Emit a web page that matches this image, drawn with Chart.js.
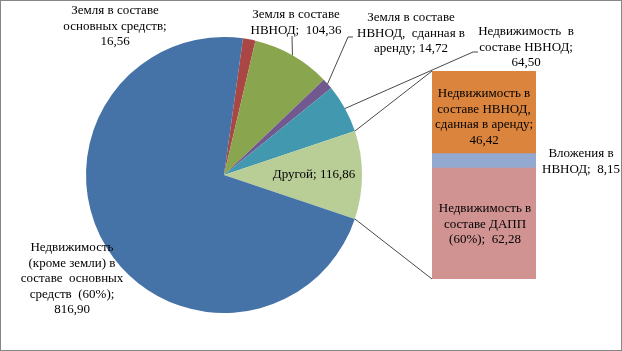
<!DOCTYPE html>
<html>
<head>
<meta charset="utf-8">
<script src="https://cdn.jsdelivr.net/npm/chart.js@4"></script>
<style>
    body { margin: 0; background: #fff; }
    #wrap { position: relative; width: 622px; height: 351px; box-sizing: border-box; border: 1px solid #868686; }
    #pie { position: absolute; left: -1px; top: -1px; z-index: 2; }
    #bar { position: absolute; left: 431px; top: 70px; z-index: 1; }
</style>
</head>
<body>
<div id="wrap">
    <canvas id="bar" width="104" height="208"></canvas>
    <canvas id="pie" width="622" height="351"></canvas>
</div>
<script>
const pieLabels = [
    "Земля в составе основных средств",
    "Земля в составе НВНОД",
    "Земля в составе НВНОД, сданная в аренду",
    "Недвижимость в составе НВНОД",
    "Другой",
    "Недвижимость (кроме земли) в составе основных средств (60%)",
];
const pieValues = [16.56, 104.36, 14.72, 64.50, 116.86, 816.90];
const pieColors = ["#AA4643", "#89A54E", "#71588F", "#4198AF", "#B9CD96", "#4572A7"];
const otherIndex = 4;

// bar of pie, from bottom to top
const barLabels = [
    "Недвижимость в составе ДАПП (60%)",
    "Вложения в НВНОД",
    "Недвижимость в составе НВНОД, сданная в аренду",
];
const barValues = [62.28, 8.15, 46.42];
const barColors = ["#D19392", "#93A9CF", "#DB843D"];

const fmt = (v) => v.toFixed(2).replace(".", ",");

// the "other" slice is centred at 3 o'clock, like in Excel
const pieTotal = pieValues.reduce((a, b) => a + b, 0);
const before = pieValues.slice(0, otherIndex).reduce((a, b) => a + b, 0);
const rotation = 90 - (before + pieValues[otherIndex] / 2) / pieTotal * 360;

const barChart = new Chart(document.getElementById("bar"), {
    type: "bar",
    data: {
        labels: [""],
        datasets: barValues.map((v, i) => ({
            label: barLabels[i],
            data: [v],
            backgroundColor: barColors[i],
            barPercentage: 1,
            categoryPercentage: 1,
            borderWidth: 0,
        })),
    },
    options: {
        responsive: false,
        animation: false,
        layout: { padding: 0 },
        scales: {
            x: { stacked: true, display: false },
            y: { stacked: true, display: false, min: 0, max: barValues.reduce((a, b) => a + b, 0) },
        },
        plugins: { legend: { display: false }, tooltip: { enabled: false } },
    },
});

// label text and where it sits (slice index, or "bar" index); anchor = leader line end
const pieText = [
    { x: 115, y: 11, lines: ["Земля в составе", "основных средств;", fmt(pieValues[0])] },
    { x: 296, y: 15, lines: ["Земля в составе", "НВНОД;  " + fmt(pieValues[1])], anchor: [[292, 36]] },
    { x: 411, y: 18, lines: ["Земля в составе", "НВНОД,  сданная в", "аренду; " + fmt(pieValues[2])], anchor: [[348, 37], [353, 37]] },
    { x: 526, y: 32, lines: ["Недвижимость  в", "составе НВНОД;", fmt(pieValues[3])], anchor: [[473, 52], [478, 52]] },
    { x: 314, y: 175, lines: ["Другой; " + fmt(pieValues[4])] },
    { x: 72, y: 248, lines: ["Недвижимость", "(кроме земли) в", "составе  основных", "средств  (60%);", fmt(pieValues[5])] },
];
const barText = [
    { x: 485, y: 209, lines: ["Недвижимость в", "составе ДАПП", "(60%);  " + fmt(barValues[0])] },
    { x: 581, y: 154, lines: ["Вложения в", "НВНОД;  " + fmt(barValues[1])] },
    { x: 484, y: 94, lines: ["Недвижимость в", "составе НВНОД,", "сданная в аренду;", fmt(barValues[2])] },
];

const lineH = 15.5;

const overlay = {
    id: "overlay",
    afterDraw(chart) {
        const ctx = chart.ctx;
        const arcs = chart.getDatasetMeta(0).data;
        const barCanvas = document.getElementById("bar");
        const bx = barCanvas.offsetLeft + 1, by = barCanvas.offsetTop + 1;
        const barMeta = barChart.data.datasets.map((d, i) => barChart.getDatasetMeta(i).data[0]);
        const bottomBar = barMeta[0], topBar = barMeta[barMeta.length - 1];
        const barLeft = bx + bottomBar.x - bottomBar.width / 2;

        ctx.save();
        ctx.strokeStyle = "#1a1a1a";
        ctx.lineWidth = 0.8;

        // connectors from the "other" slice to the bar
        const o = arcs[otherIndex];
        const p1 = [o.x + Math.cos(o.startAngle) * o.outerRadius, o.y + Math.sin(o.startAngle) * o.outerRadius];
        const p2 = [o.x + Math.cos(o.endAngle) * o.outerRadius, o.y + Math.sin(o.endAngle) * o.outerRadius];
        ctx.beginPath();
        ctx.moveTo(p1[0], p1[1]);
        ctx.lineTo(barLeft, by + topBar.y);
        ctx.moveTo(p2[0], p2[1]);
        ctx.lineTo(barLeft, by + bottomBar.base);
        ctx.stroke();

        // leader lines
        pieText.forEach((t, i) => {
            if (!t.anchor) return;
            const a = arcs[i];
            const mid = (a.startAngle + a.endAngle) / 2;
            ctx.beginPath();
            ctx.moveTo(a.x + Math.cos(mid) * a.outerRadius, a.y + Math.sin(mid) * a.outerRadius);
            t.anchor.forEach((p) => ctx.lineTo(p[0], p[1]));
            ctx.stroke();
        });

        // labels
        ctx.fillStyle = "#000";
        ctx.font = "13px 'Liberation Serif', 'Times New Roman', serif";
        ctx.textAlign = "center";
        ctx.textBaseline = "middle";
        [...pieText, ...barText].forEach((t) => {
            t.lines.forEach((ln, k) => ctx.fillText(ln, t.x, t.y + k * lineH));
        });
        ctx.restore();
    },
};

const pieChart = new Chart(document.getElementById("pie"), {
    type: "pie",
    data: {
        labels: pieLabels,
        datasets: [
            {
                data: pieValues,
                backgroundColor: pieColors,
                borderWidth: 0,
                hoverOffset: 0,
            },
        ],
    },
    options: {
        responsive: false,
        animation: false,
        rotation: rotation,
        layout: { padding: { left: 86, top: 37, right: 260, bottom: 38 } },
        plugins: { legend: { display: false }, tooltip: { enabled: false } },
    },
    plugins: [overlay],
});
</script>
</body>
</html>
